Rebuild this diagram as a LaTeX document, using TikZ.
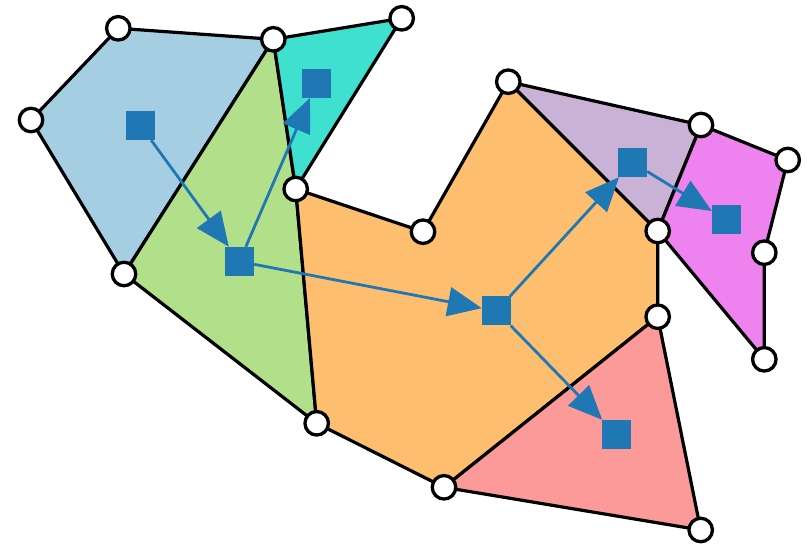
\documentclass[tikz,border=0pt]{standalone}
\usetikzlibrary{arrows.meta}
\definecolor{cblue}{HTML}{A6CEE3}
\definecolor{cgreen}{HTML}{B2DF8A}
\definecolor{cteal}{HTML}{40E0D0}
\definecolor{corange}{HTML}{FDBF6F}
\definecolor{cpurple}{HTML}{CAB2D6}
\definecolor{cviolet}{HTML}{EE82EE}
\definecolor{csalmon}{HTML}{FB9A99}
\definecolor{csq}{HTML}{1F78B4}
\begin{document}
\begin{tikzpicture}[x=1pt,y=-1pt,
  region/.style={draw=black,line width=3.2pt,line join=round},
  vert/.style={circle,draw=black,fill=white,line width=3.3pt,minimum size=23.5pt,inner sep=0pt},
  sq/.style={rectangle,fill=csq,minimum size=29pt,inner sep=0pt},
  link/.style={draw=csq,line width=2.8pt,-{Triangle[length=34pt,width=29pt]}}]
\useasboundingbox (0,0) rectangle (807,548);
% vertex coordinates
\coordinate (A) at (118.3,28.3);
\coordinate (B) at (273.3,39.3);
\coordinate (C) at (401.7,18.3);
\coordinate (D) at (31,120);
\coordinate (E) at (295.7,189);
\coordinate (F) at (124,274);
\coordinate (G) at (423,231.7);
\coordinate (H) at (508.3,81.7);
\coordinate (I) at (701,125);
\coordinate (J) at (787.7,160);
\coordinate (K) at (657.7,231);
\coordinate (L) at (764.3,252.7);
\coordinate (M) at (657.7,316.7);
\coordinate (N) at (764.3,359.3);
\coordinate (O) at (316.7,423.3);
\coordinate (P) at (444,487.3);
\coordinate (Q) at (700.7,530);
% regions
\path[region,fill=cblue] (D) -- (A) -- (B) -- (F) -- cycle;
\path[region,fill=cgreen] (B) -- (E) -- (O) -- (F) -- cycle;
\path[region,fill=cteal] (B) -- (C) -- (E) -- cycle;
\path[region,fill=corange] (E) -- (G) -- (H) -- (K) -- (M) -- (P) -- (O) -- cycle;
\path[region,fill=cpurple] (H) -- (I) -- (K) -- cycle;
\path[region,fill=cviolet] (I) -- (J) -- (L) -- (N) -- (K) -- cycle;
\path[region,fill=csalmon] (M) -- (Q) -- (P) -- cycle;
% site squares
\node[sq] (s1) at (140.5,125.5) {};
\node[sq] (s2) at (239.5,261.5) {};
\node[sq] (s3) at (316.3,83.3) {};
\node[sq] (s4) at (496.5,311) {};
\node[sq] (s5) at (632.5,162.5) {};
\node[sq] (s6) at (726.5,220) {};
\node[sq] (s7) at (616.5,434.5) {};
% links
\draw[link] (s1) -- (s2);
\draw[link] (s2) -- (s3);
\draw[link] (s2) -- (s4);
\draw[link] (s4) -- (s5);
\draw[link] (s5) -- (s6);
\draw[link] (s4) -- (s7);
% squares on top again
\foreach \s/\p in {s1/{140.5,125.5},s2/{239.5,261.5},s3/{316.3,83.3},s4/{496.5,311},s5/{632.5,162.5},s6/{726.5,220},s7/{616.5,434.5}}
  \fill[csq] (\p) ++(-14.5,-14.5) rectangle ++(29,29);
% vertices
\foreach \v in {A,B,C,D,E,F,G,H,I,J,K,L,M,N,O,P,Q}
  \node[vert] (v\v) at (\v) {};
\end{tikzpicture}
\end{document}
